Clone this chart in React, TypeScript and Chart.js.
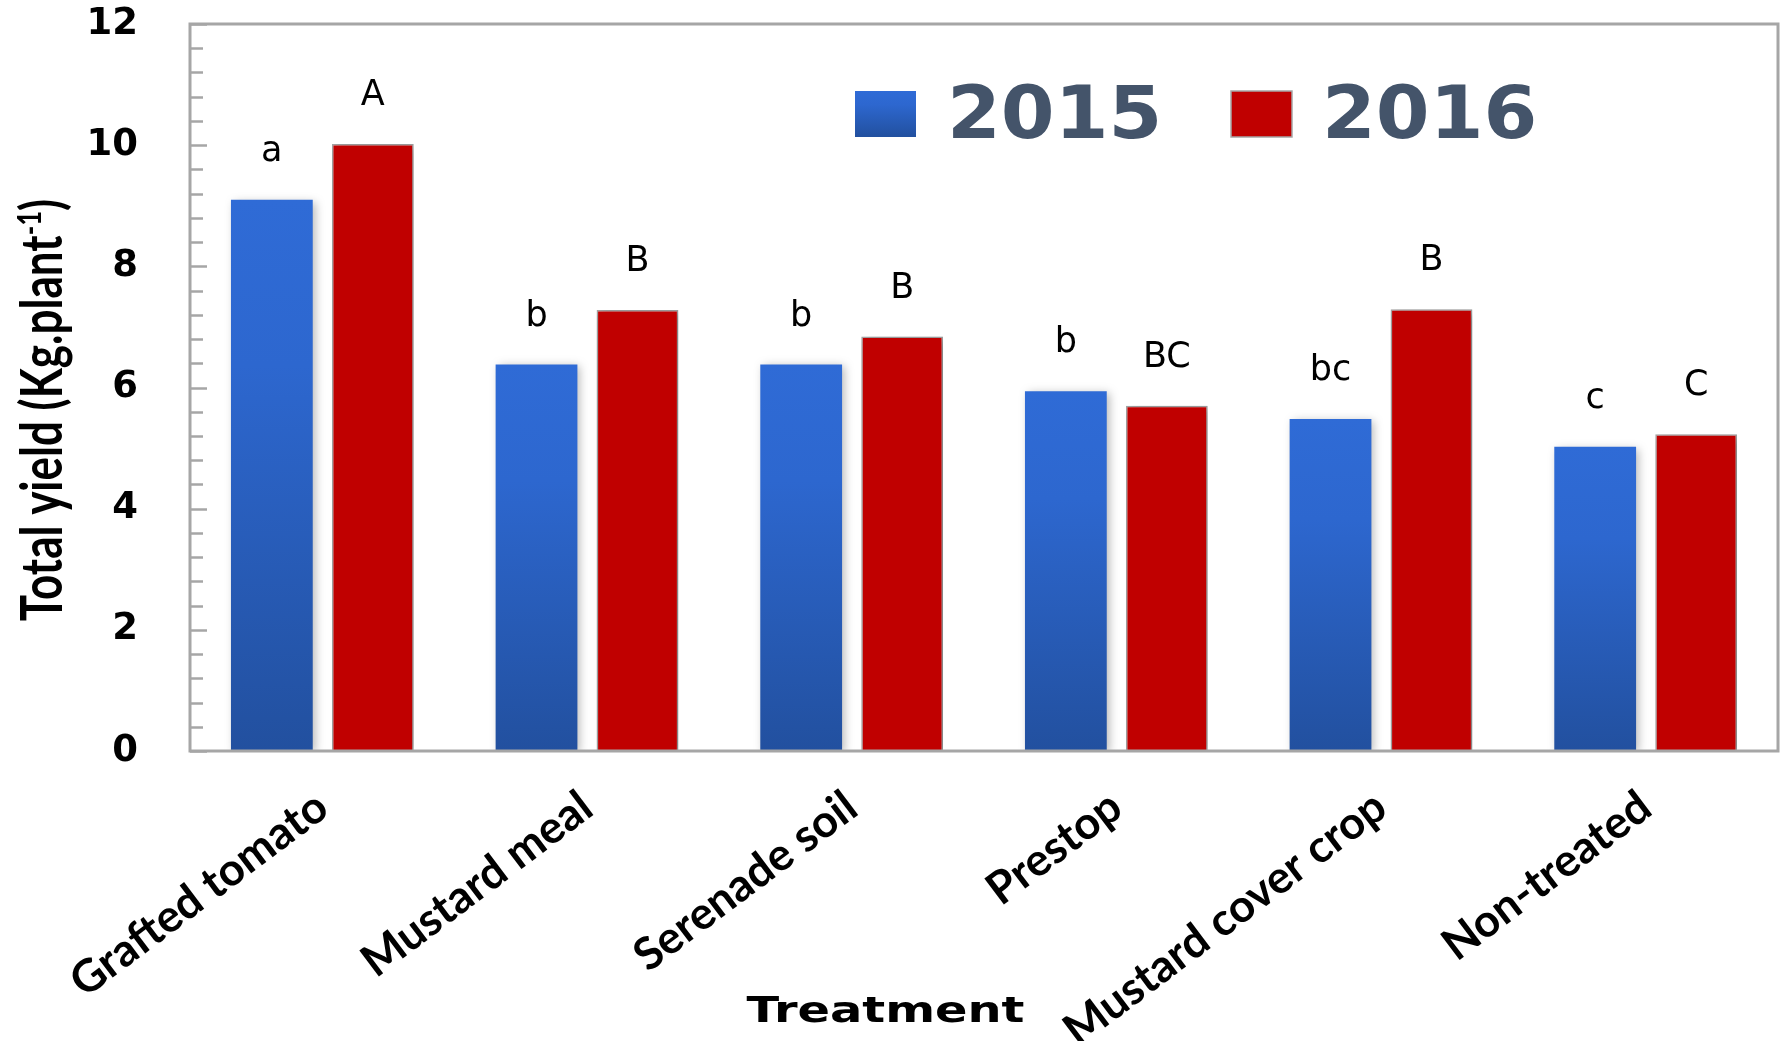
import React, { useEffect, useRef } from 'react';
import { Chart, registerables } from 'chart.js';

Chart.register(...registerables);

// ---- data ----
const categories = ['Grafted tomato', 'Mustard meal', 'Serenade soil', 'Prestop', 'Mustard cover crop', 'Non-treated'];
const seriesLabels = ['2015', '2016'];
const yield2015 = [9.1, 6.38, 6.38, 5.94, 5.48, 5.02];
const yield2016 = [10.02, 7.28, 6.84, 5.7, 7.29, 5.23];
const letters2015 = ['a', 'b', 'b', 'b', 'bc', 'c'];
const letters2016 = ['A', 'B', 'B', 'BC', 'B', 'C'];
const yMin = 0;
const yMax = 12;
const yLabelStep = 2;
const yMinorStep = 0.4;
const xTitle = 'Treatment';
const yTitleMain = 'Total yield (Kg.plant';
const yTitleSup = '-1';
const yTitleEnd = ')';

// ---- styles ----
const AXIS_GRAY = '#a6a6a6';
const RED = '#c00000';
const LEGEND_TEXT = '#44546a';

function blueGradient(ctx: CanvasRenderingContext2D, top: number, bottom: number) {
  const g = ctx.createLinearGradient(0, top, 0, bottom);
  g.addColorStop(0, '#2f6bd6');
  g.addColorStop(0.3, '#2d67cf');
  g.addColorStop(1, '#22509f');
  return g;
}

const decorPlugin = {
  id: 'decor',
  beforeDatasetsDraw(chart: any) {
    const ctx = chart.ctx;
    ctx.save();
    ctx.shadowColor = 'rgba(0,0,0,0.28)';
    ctx.shadowBlur = 9;
    ctx.shadowOffsetX = 3;
    ctx.shadowOffsetY = 2;
  },
  afterDatasetsDraw(chart: any) {
    const ctx: CanvasRenderingContext2D = chart.ctx;
    ctx.restore();
    const area = chart.chartArea;
    const yScale = chart.scales.y;

    // frame
    ctx.save();
    ctx.strokeStyle = AXIS_GRAY;
    ctx.lineWidth = 3;
    ctx.strokeRect(area.left, area.top, area.right - area.left, area.bottom - area.top);

    // inner tick marks
    ctx.lineWidth = 2.5;
    const n = Math.round((yMax - yMin) / yMinorStep);
    for (let i = 0; i <= n; i++) {
      const v = yMin + i * yMinorStep;
      const y = Math.round(yScale.getPixelForValue(v)) + 0.5;
      const isMajor = Math.abs(v / yLabelStep - Math.round(v / yLabelStep)) < 1e-6;
      ctx.beginPath();
      ctx.moveTo(area.left, y);
      ctx.lineTo(area.left + (isMajor ? 17 : 13), y);
      ctx.stroke();
    }
    ctx.restore();

    // significance letters
    const letterSets = [letters2015, letters2016];
    ctx.save();
    ctx.fillStyle = '#000';
    ctx.font = '35px "DejaVu Sans"';
    ctx.textAlign = 'center';
    ctx.textBaseline = 'middle';
    chart.data.datasets.forEach((_: any, di: number) => {
      const meta = chart.getDatasetMeta(di);
      meta.data.forEach((bar: any, j: number) => {
        ctx.fillText(letterSets[di][j], bar.x, bar.y - 48);
      });
    });
    ctx.restore();

    // legend
    ctx.save();
    const boxTop = 91;
    const boxH = 46;
    const boxW = 61;
    const legendItems = [
      { box: 855, text: 947 },
      { box: 1231, text: 1322 },
    ];
    legendItems.forEach((it, i) => {
      if (i === 0) {
        ctx.fillStyle = blueGradient(ctx, boxTop, boxTop + boxH);
        ctx.fillRect(it.box, boxTop, boxW, boxH);
      } else {
        ctx.fillStyle = RED;
        ctx.fillRect(it.box, boxTop, boxW, boxH);
        ctx.strokeStyle = AXIS_GRAY;
        ctx.lineWidth = 1.5;
        ctx.strokeRect(it.box, boxTop, boxW, boxH);
      }
      ctx.save();
      ctx.translate(it.text, 138);
      ctx.scale(1.06, 1);
      ctx.fillStyle = LEGEND_TEXT;
      ctx.font = 'bold 73px "DejaVu Sans"';
      ctx.textAlign = 'left';
      ctx.textBaseline = 'alphabetic';
      ctx.fillText(seriesLabels[i], 0, 0);
      ctx.restore();
    });
    ctx.restore();

    // x title
    ctx.save();
    ctx.translate(chart.width / 2 - 6, 1022);
    ctx.scale(1.33, 1);
    ctx.fillStyle = '#000';
    ctx.font = 'bold 36px "DejaVu Sans"';
    ctx.textAlign = 'center';
    ctx.textBaseline = 'alphabetic';
    ctx.fillText(xTitle, 0, 0);
    ctx.restore();

    // y title with superscript
    ctx.save();
    ctx.translate(62, 410);
    ctx.rotate(-Math.PI / 2);
    ctx.scale(0.8, 1.04);
    ctx.fillStyle = '#000';
    ctx.textBaseline = 'alphabetic';
    ctx.textAlign = 'left';
    const mainFont = 'bold 55px Lato';
    const supFont = 'bold 32px Lato';
    ctx.font = mainFont;
    const w1 = ctx.measureText(yTitleMain).width;
    const w3 = ctx.measureText(yTitleEnd).width;
    ctx.font = supFont;
    const w2 = ctx.measureText(yTitleSup).width;
    const total = w1 + w2 + w3;
    let x = -total / 2;
    ctx.font = mainFont;
    ctx.fillText(yTitleMain, x, 0);
    x += w1;
    ctx.font = supFont;
    ctx.fillText(yTitleSup, x, -20);
    x += w2;
    ctx.font = mainFont;
    ctx.fillText(yTitleEnd, x, 0);
    ctx.restore();
  },
};

export default function App() {
  const ref = useRef<HTMLCanvasElement | null>(null);

  useEffect(() => {
    document.body.style.margin = '0';
    const canvas = ref.current;
    if (!canvas) return;
    const chart = new Chart(canvas, {
      type: 'bar',
      data: {
        labels: categories,
        datasets: [
          {
            label: seriesLabels[0],
            data: yield2015,
            backgroundColor: (c: any) => {
              const ch = c.chart;
              const area = ch.chartArea;
              if (!area || c.type !== 'data' || !ch.scales.y) return '#2d67cf';
              const top = ch.scales.y.getPixelForValue(c.raw);
              return blueGradient(ch.ctx, top, area.bottom);
            },
            borderWidth: 0,
            categoryPercentage: 0.763,
            barPercentage: 0.81,
          },
          {
            label: seriesLabels[1],
            data: yield2016,
            backgroundColor: RED,
            borderColor: AXIS_GRAY,
            borderWidth: 1.5,
            categoryPercentage: 0.763,
            barPercentage: 0.81,
          },
        ],
      },
      options: {
        animation: false,
        responsive: false,
        devicePixelRatio: 1,
        layout: { padding: { left: 0, right: 5, top: 24, bottom: 0 } },
        plugins: { legend: { display: false }, tooltip: { enabled: false } },
        scales: {
          x: {
            grid: { display: false, drawTicks: false },
            border: { display: false },
            ticks: {
              font: { family: 'Lato', weight: 'bold', size: 45 },
              color: '#000',
              minRotation: 37,
              maxRotation: 37,
              autoSkip: false,
              padding: 29,
            },
            afterFit: (s: any) => {
              s.height = 290;
              s.paddingLeft = 0;
              s.paddingRight = 0;
            },
          },
          y: {
            min: yMin,
            max: yMax,
            grid: { display: false, drawTicks: false },
            border: { display: false },
            ticks: {
              stepSize: yLabelStep,
              font: { family: 'DejaVu Sans', weight: 'bold', size: 37 },
              color: '#000',
              padding: 52,
            },
            afterFit: (s: any) => {
              s.width = 190;
              s.paddingTop = 0;
              s.paddingBottom = 0;
            },
          },
        },
      },
      plugins: [decorPlugin],
    });
    return () => chart.destroy();
  }, []);

  return (
    <div style={{ position: 'absolute', left: 0, top: 0, width: 1783, height: 1041, background: '#fff' }}>
      <canvas ref={ref} width={1783} height={1041} style={{ width: 1783, height: 1041, display: 'block' }} />
    </div>
  );
}
